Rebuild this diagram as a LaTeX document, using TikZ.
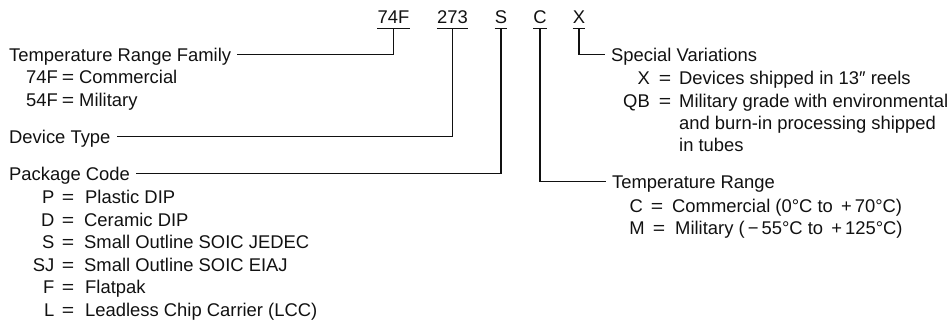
\documentclass[tikz,border=0pt]{standalone}
\usepackage{fontspec}
\setmainfont{Liberation Sans}
\definecolor{ink}{HTML}{111111}
\tikzset{
  txt/.style={anchor=base west,inner sep=0pt,text=ink,text height=15pt,text depth=0pt,font=\fontsize{18.4}{22}\selectfont},
  keytxt/.style={txt,anchor=base east},
  eqtxt/.style={txt,anchor=base},
  topcode/.style={anchor=base,inner xsep=0pt,inner ysep=4pt,text=ink,text height=14pt,text depth=0pt,font=\fontsize{18.4}{22}\selectfont},
  wire/.style={draw=ink,line width=1.3pt},
  rule/.style={draw=ink,line width=1.1pt},
}
\newcommand{\entry}[7]{%
  \node[keytxt] (#1k) at (#2,#5) {#6};
  \node[eqtxt] (#1e) at (#3,#5) {\scalebox{1.15}[1]{=}};
  \node[txt] (#1d) at (#4,#5) {#7};
}
\begin{document}
\begin{tikzpicture}[x=1pt,y=-1pt]
\useasboundingbox (0,0) rectangle (952,323);
% top code
\node[topcode] (t74) at (393.5,24) {74F};
\node[topcode] (t273) at (452.5,24) {273};
\node[topcode] (tS) at (501,24) {S};
\node[topcode] (tC) at (540,24) {C};
\node[topcode] (tX) at (579,24) {X};
\foreach \n in {t74,t273,tS,tC,tX}{\draw[rule] (\n.south west) -- (\n.south east);}
% left column
\node[txt] (fam) at (9,62) {Temperature Range Family};
\entry{a}{58}{68}{79}{84}{74F}{Commercial}
\entry{b}{58}{68}{79}{107}{54F}{Military}
\node[txt] (dev) at (9,144) {Device Type};
\node[txt] (pkg) at (9,181) {Package Code};
\entry{p}{54.5}{68}{85}{203}{P}{Plastic DIP}
\entry{d}{54.5}{68}{84}{226}{D}{Ceramic DIP}
\entry{s}{54.5}{68}{84}{248}{S}{Small Outline SOIC JEDEC}
\entry{j}{54.5}{68}{84}{271}{SJ}{Small Outline SOIC EIAJ}
\entry{f}{54.5}{68}{85}{293}{F}{Flatpak}
\entry{l}{54.5}{68}{85}{316}{L}{Leadless Chip Carrier (LCC)}
% right column
\node[txt] (spv) at (611,62) {Special Variations};
\entry{x}{650}{665}{679}{85}{X}{Devices shipped in 13″ reels}
\entry{q}{650}{665}{679}{108}{QB}{Military grade with environmental}
\node[txt] (q2) at (679,130) {and burn-in processing shipped};
\node[txt] (q3) at (679,152) {in tubes};
\node[txt] (rng) at (612,189) {Temperature Range};
\entry{c}{643}{657}{672}{212}{C}{Commercial (0°C to \,+\,70°C)}
\entry{m}{645}{659}{675}{234}{M}{Military (\,−\,55°C to \,+\,125°C)}
% connectors
\draw[wire,shorten >=6pt] (t74.south) |- (fam.east);
\draw[wire,shorten >=6pt] (t273.south) |- (dev.east);
\draw[wire,shorten >=6pt] (tS.south) |- (pkg.east);
\draw[wire,shorten >=6pt] (tC.south) |- (rng.west);
\draw[wire,shorten >=6pt] (tX.south) |- (spv.west);
\end{tikzpicture}
\end{document}
